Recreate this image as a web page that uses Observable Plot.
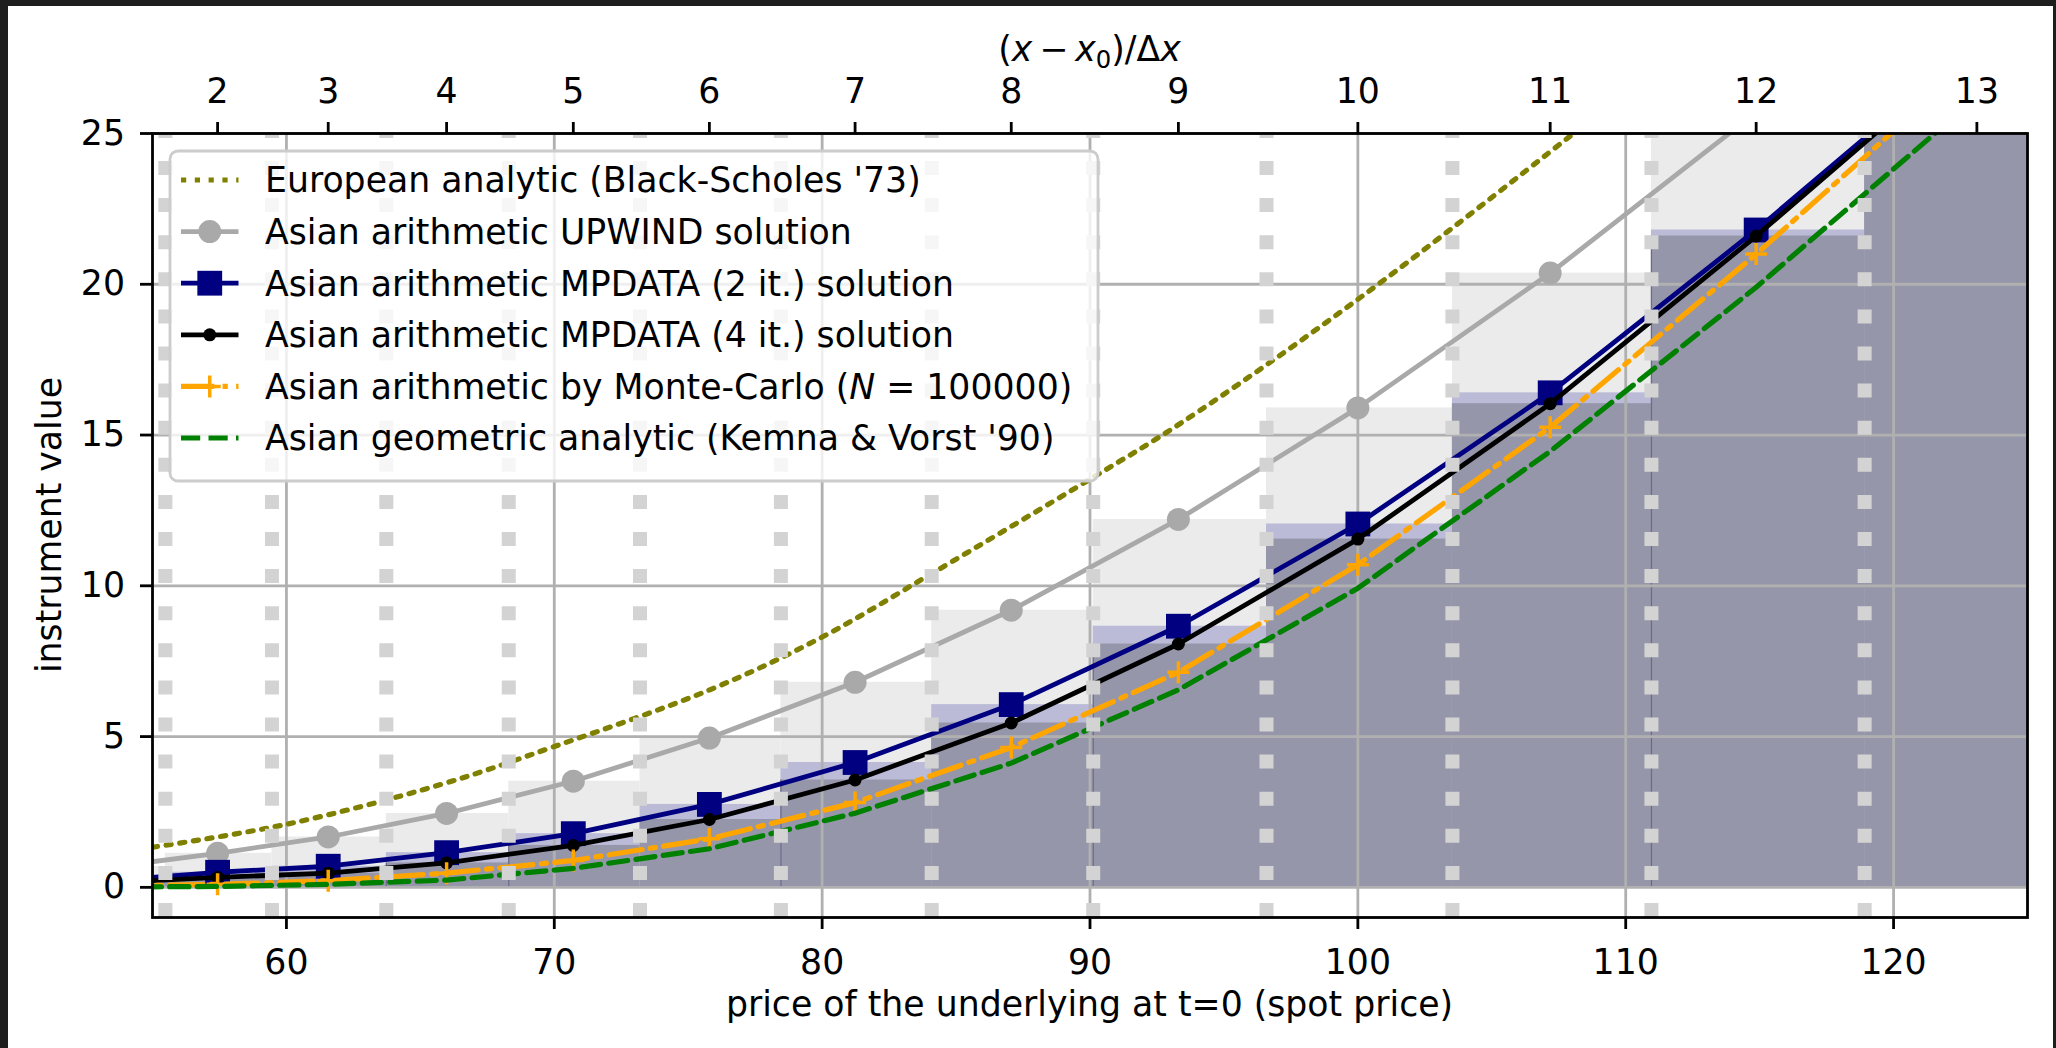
<!DOCTYPE html>
<html><head><meta charset="utf-8">
<script src="https://cdn.jsdelivr.net/npm/d3@7"></script>
<script src="https://cdn.jsdelivr.net/npm/@observablehq/plot@0.6"></script>
<style>
html,body{margin:0;padding:0;background:#1e1e1e;width:2056px;height:1048px;overflow:hidden;}
#fig{position:absolute;left:8px;top:6px;width:2045px;height:1042px;background:#fff;}
</style></head><body><div id="fig"></div>
<script>
// grid nodes (cell centres), i = 1..13
const spot = [53.59, 57.43, 61.56, 65.98, 70.71, 75.79, 81.23, 87.06, 93.30, 100, 107.18, 114.87, 123.11];
// cell boundaries
const cellEdges = [51.77, 55.48, 59.46, 63.73, 68.30, 73.20, 78.46, 84.09, 90.12, 96.59, 103.53, 110.96, 118.92, 127.46];
const upwind     = [0.69, 1.13, 1.67, 2.45, 3.52, 4.95, 6.80, 9.19, 12.20, 15.90, 20.37, 25.70, 31.40];
const mpdata2    = [0.23, 0.50, 0.70, 1.15, 1.78, 2.75, 4.14, 6.06, 8.66, 12.05, 16.40, 21.80, 28.00];
const mpdata4    = [0.16, 0.33, 0.47, 0.81, 1.39, 2.25, 3.56, 5.45, 8.07, 11.55, 16.04, 21.60, 27.90];
const monteCarlo = [0.04, 0.10, 0.22, 0.47, 0.89, 1.61, 2.81, 4.64, 7.13, 10.70, 15.26, 21.00, 27.55];
const geometric  = [0.01, 0.03, 0.10, 0.24, 0.63, 1.28, 2.46, 4.12, 6.55, 9.92, 14.46, 19.90, 26.20];
// European (Black-Scholes) curve
const euroSpot  = [55, 60, 65.8, 70, 75.83, 80, 84.08, 90.12, 93.4, 100, 108.05, 112];
const euroValue = [1.33, 2.09, 3.42, 4.67, 6.56, 8.30, 10.40, 13.60, 15.40, 19.50, 25.00, 27.80];
// cells whose bar edge shows a thin seam line (index into cells)
const seamCells = [3, 4, 6, 8, 11];
// axes
const xTicks = [60, 70, 80, 90, 100, 110, 120];
const yTicks = [0, 5, 10, 15, 20, 25];
const topTickPos = [57.43, 61.56, 65.98, 70.71, 75.79, 81.23, 87.06, 93.30, 100, 107.18, 114.87, 123.11];
const topTickLabels = ["2","3","4","5","6","7","8","9","10","11","12","13"];
const legendLabels = [
  "European analytic (Black-Scholes '73)",
  "Asian arithmetic UPWIND solution",
  "Asian arithmetic MPDATA (2 it.) solution",
  "Asian arithmetic MPDATA (4 it.) solution",
  "Asian arithmetic by Monte-Carlo (N = 100000)",
  "Asian geometric analytic (Kemna & Vorst '90)"
];

const W = 2045, H = 1042, mL = 144, mT = 127, mR = 26, mB = 131;
const FS = 34.7;
const LW = 4.8, LWD = 5.2;
const DOT = "5.2,8.6", DASH = "19.2,8.3", DASHDOT = "33.3,8.3,5.2,8.3";

const nodes = spot.map((s, k) => ({S: s, up: upwind[k], m2: mpdata2[k], m4: mpdata4[k], mc: monteCarlo[k], geo: geometric[k]}));
const cells = spot.map((s, k) => ({x1: cellEdges[k], x2: cellEdges[k + 1], up: upwind[k], m2: mpdata2[k], m4: mpdata4[k]}));
const seams = seamCells.map(k => cells[k]);
const marked = nodes.slice(1, 12);
const euro = euroSpot.map((s, k) => ({S: s, v: euroValue[k]}));
const topMap = new Map(topTickPos.map((p, k) => [p, topTickLabels[k]]));

const plusSymbol = {draw(ctx, size) { const r = Math.sqrt(size / Math.PI); ctx.moveTo(-r, 0); ctx.lineTo(r, 0); ctx.moveTo(0, -r); ctx.lineTo(0, r); }};

const chart = Plot.plot({
  width: W, height: H, marginLeft: mL, marginTop: mT, marginRight: mR, marginBottom: mB,
  x: {domain: [55, 125]},
  y: {domain: [-1, 25]},
  style: {fontFamily: "DejaVu Sans", fontSize: FS + "px", color: "black", background: "transparent", overflow: "visible"},
  marks: [
    Plot.rect(cells, {x1: "x1", x2: "x2", y1: 0, y2: "up", fill: "#ebebeb", clip: true}),
    Plot.rect(cells, {x1: "x1", x2: "x2", y1: 0, y2: "m2", fill: "#bbbbd8", clip: true}),
    Plot.rect(cells, {x1: "x1", x2: "x2", y1: 0, y2: "m4", fill: "#9696aa", clip: true}),
    Plot.ruleX(seams, {x: "x1", y1: 0, y2: "m4", stroke: "#5a5a7a", strokeWidth: 1.3, strokeOpacity: 0.7, clip: true}),
    Plot.gridX(xTicks, {stroke: "#b0b0b0", strokeOpacity: 1, strokeWidth: 2.8}),
    Plot.gridY(yTicks, {stroke: "#b0b0b0", strokeOpacity: 1, strokeWidth: 2.8}),
    Plot.line(euro, {x: "S", y: "v", stroke: "#808000", strokeWidth: LWD, strokeDasharray: DOT, curve: "catmull-rom", clip: true}),
    Plot.line(nodes, {x: "S", y: "up", stroke: "#a9a9a9", strokeWidth: LW, clip: true}),
    Plot.dot(marked, {x: "S", y: "up", r: 11.5, fill: "#a9a9a9", clip: true}),
    Plot.line(nodes, {x: "S", y: "m2", stroke: "#000080", strokeWidth: LW, clip: true}),
    Plot.dot(marked, {x: "S", y: "m2", symbol: "square", r: 14, fill: "#000080", clip: true}),
    Plot.line(nodes, {x: "S", y: "m4", stroke: "black", strokeWidth: LW, clip: true}),
    Plot.dot(marked, {x: "S", y: "m4", r: 6.5, fill: "black", clip: true}),
    Plot.line(nodes, {x: "S", y: "mc", stroke: "#ffa500", strokeWidth: LWD, strokeDasharray: DASHDOT, clip: true}),
    Plot.dot(marked, {x: "S", y: "mc", symbol: plusSymbol, r: 11, stroke: "#ffa500", strokeWidth: 3.5, fill: "none", clip: true}),
    Plot.line(nodes, {x: "S", y: "geo", stroke: "#008000", strokeWidth: LWD, strokeDasharray: DASH, clip: true}),
    Plot.ruleX(cellEdges, {y1: -1, y2: 25, stroke: "#d3d3d3", strokeWidth: 14, strokeDasharray: "14,23.1", clip: true}),
    Plot.frame({stroke: "black", strokeWidth: 2.8}),
    Plot.axisX(xTicks, {anchor: "bottom", tickSize: 12, tickPadding: 20, strokeWidth: 2.8, label: null, fontSize: FS}),
    Plot.axisY(yTicks, {anchor: "left", tickSize: 12, tickPadding: 15.5, strokeWidth: 2.8, label: null, fontSize: FS}),
    Plot.axisX(topTickPos, {anchor: "top", tickSize: 12, tickPadding: 18.5, strokeWidth: 2.8, label: null, fontSize: FS, tickFormat: d => topMap.get(d)})
  ]
});
document.getElementById("fig").appendChild(chart);

const svg = d3.select(chart);
const xs = chart.scale("x"), ys = chart.scale("y");
const cx = (xs.apply(55) + xs.apply(125)) / 2;
// axis titles
svg.append("text").attr("x", cx).attr("y", 1010).attr("text-anchor", "middle").attr("font-size", FS)
  .text("price of the underlying at t=0 (spot price)");
svg.append("text").attr("transform", `translate(53,${(ys.apply(25) + ys.apply(-1)) / 2}) rotate(-90)`)
  .attr("text-anchor", "middle").attr("font-size", FS).text("instrument value");
const tl = svg.append("text").attr("x", cx).attr("y", 55).attr("text-anchor", "middle").attr("font-size", FS);
tl.append("tspan").text("(");
tl.append("tspan").attr("font-style", "italic").text("x");
tl.append("tspan").text("\u2009−\u2009");
tl.append("tspan").attr("font-style", "italic").text("x");
tl.append("tspan").attr("font-size", FS * 0.7).attr("dy", 7).text("0");
tl.append("tspan").attr("dy", -7).text(")/Δ");
tl.append("tspan").attr("font-style", "italic").text("x");

// legend
const lg = svg.append("g").attr("text-anchor", "start");
lg.append("rect").attr("x", 162).attr("y", 145).attr("width", 928).attr("height", 330).attr("rx", 8)
  .attr("fill", "white").attr("fill-opacity", 0.8).attr("stroke", "#cccccc").attr("stroke-width", 2.8);
const hx1 = 173, hx2 = 230.5, hxm = (hx1 + hx2) / 2, tx = 257;
const rows = [174, 225.6, 277.2, 328.8, 380.4, 432];
function hline(y, color, dash, w) {
  const l = lg.append("line").attr("x1", hx1).attr("x2", hx2).attr("y1", y).attr("y2", y)
    .attr("stroke", color).attr("stroke-width", w);
  if (dash) l.attr("stroke-dasharray", dash);
}
hline(rows[0], "#808000", DOT, LWD);
hline(rows[1], "#a9a9a9", null, LW); lg.append("circle").attr("cx", hxm).attr("cy", rows[1]).attr("r", 11.5).attr("fill", "#a9a9a9");
hline(rows[2], "#000080", null, LW); lg.append("rect").attr("x", hxm - 12.4).attr("y", rows[2] - 12.4).attr("width", 24.8).attr("height", 24.8).attr("fill", "#000080");
hline(rows[3], "black", null, LW); lg.append("circle").attr("cx", hxm).attr("cy", rows[3]).attr("r", 6.5).attr("fill", "black");
hline(rows[4], "#ffa500", DASHDOT, LWD);
lg.append("path").attr("d", `M${hxm - 11},${rows[4]}H${hxm + 11}M${hxm},${rows[4] - 11}V${rows[4] + 11}`).attr("stroke", "#ffa500").attr("stroke-width", 3.5);
hline(rows[5], "#008000", DASH, LWD);
legendLabels.forEach((t, k) => {
  const el = lg.append("text").attr("x", tx).attr("y", rows[k]).attr("dy", "0.36em").attr("font-size", FS).attr("text-anchor", "start");
  if (k === 4) {
    el.append("tspan").text("Asian arithmetic by Monte-Carlo (");
    el.append("tspan").attr("font-style", "italic").text("N");
    el.append("tspan").text(" = 100000)");
  } else el.text(t);
});
</script></body></html>
